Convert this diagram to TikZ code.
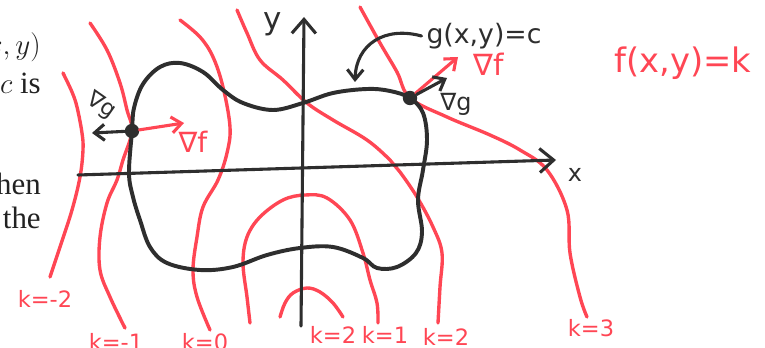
\documentclass[tikz,border=0pt]{standalone}
\usepackage{fontspec}
\setsansfont{DejaVu Sans}
\newfontfamily\bookfont{Liberation Serif}
\usetikzlibrary{arrows.meta}
\definecolor{cred}{HTML}{FF4654}
\definecolor{cink}{HTML}{2E2E2E}
\definecolor{cbook}{HTML}{222222}
\tikzset{
  every picture/.style={font=\sffamily, line cap=round, line join=round},
  level/.style={draw=cred, line width=2.4pt},
  gcurve/.style={draw=cink, line width=2.8pt},
  axis/.style={draw=cink, line width=2.2pt, -{Straight Barb[length=3.5mm, width=6mm]}},
  grad/.style={line width=2.2pt, -{Straight Barb[length=2.5mm, width=4mm]}},
  dot/.style={circle, fill=cink, inner sep=0pt, minimum size=0.36cm},
  klabel/.style={text=cred, font=\sffamily\fontsize{16}{18}\selectfont},
  book/.style={text=cbook, anchor=east, inner sep=0pt, font=\bookfont\fontsize{22}{24}\selectfont},
}

\begin{document}
\begin{tikzpicture}[x=0.025cm, y=-0.025cm]
  \useasboundingbox[fill=white] (0,0) rectangle (765,348);
  \node[book] (bk1) at (41,47) {$(x,y)$};
  \node[book] (bk2) at (41,83) {$c$ is};
  \node[book] (bk3) at (41,184) {then};
  \node[book] (bk4) at (41,218) {the};
  \draw[level] plot[smooth, tension=0.6] coordinates {(63,73) (72,92) (77,107) (82,133) (83,150) (80,177) (72,210) (60,247) (50,277)};
  \draw[level] plot[smooth, tension=0.6] coordinates {(90,23) (107,50) (120,83) (127,110) (132,131) (123,160) (117,180) (107,203) (100,237) (100,270) (110,297) (125,328)};
  \draw[level] plot[smooth, tension=0.6] coordinates {(180,20) (200,37) (213,57) (223,87) (230,127) (227,153) (218,180) (203,207) (197,237) (193,270) (197,297) (210,330)};
  \draw[level] plot[smooth, tension=0.6] coordinates {(250,323) (247,297) (243,263) (247,237) (260,217) (283,200) (305,195) (327,198) (350,220) (363,253) (370,280) (377,303) (378,323)};
  \draw[level] plot[smooth, tension=0.6] coordinates {(280,317) (285,303) (293,293) (307,288) (320,292) (333,303) (343,317)};
  \draw[level] plot[smooth, tension=0.6] coordinates {(237,10) (247,33) (260,60) (283,80) (307,103) (333,120) (367,140) (390,160) (400,172) (417,197) (433,227) (442,253) (440,287) (438,323)};
  \draw[level] plot[smooth, tension=0.6] coordinates {(360,7) (380,43) (397,72) (410,98) (447,117) (490,135) (520,150) (547,170) (567,210) (570,253) (580,297) (587,317)};
  \coordinate (xstart) at (78,175);
  \coordinate (xend) at (556,160);
  \coordinate (ystart) at (301,326);
  \coordinate (yend) at (304,17);
  \draw[axis] (xstart) -- (xend);
  \draw[axis] (ystart) -- (yend);
  \draw[gcurve] plot[smooth cycle, tension=0.6] coordinates {(132,131) (134,108) (143,84) (160,67) (180,63) (203,72) (223,90) (243,103) (273,110) (303,103) (333,93) (367,89) (390,91) (410,98) (423,113) (427,140) (423,170) (418,200) (422,232) (416,253) (397,267) (377,268) (363,258) (333,247) (300,248) (267,255) (233,267) (200,270) (167,263) (150,247) (140,220) (133,197) (129,173)};
  \node[dot] (lpt) at (132,131) {};
  \node[dot] (rpt) at (410,98) {};
  \coordinate (lgg) at (92,133);
  \coordinate (lgf) at (184,123);
  \coordinate (rgf) at (458,57);
  \coordinate (rgg) at (447,78);
  \draw[grad, cink] (lpt) -- (lgg);
  \draw[grad, cred] (lpt) -- (lgf);
  \draw[grad, cred] (rpt) -- (rgf);
  \draw[grad, cink] (rpt) -- (rgg);
  \node[text=cink, rotate=-35, inner sep=0pt, font=\sffamily\fontsize{16}{18}\selectfont] (lgglab) at (101,106) {∇g};
  \node[text=cred, font=\sffamily\fontsize{20}{22}\selectfont] (lgflab) at (193,142) {∇f};
  \node[text=cink, font=\sffamily\fontsize{17}{19}\selectfont] (rgglab) at (456,104) {∇g};
  \node[text=cred, font=\sffamily\fontsize{21}{23}\selectfont] (rgflab) at (489,64) {∇f};
  \node[text=cink, font=\sffamily\fontsize{19}{21}\selectfont] (glab) at (484,36) {g(x,y)=c};
  \draw[grad, cink] (glab.west) .. controls (385,26) and (356,44) .. (355,82);
  \node[text=cred, font=\sffamily\fontsize{24}{26}\selectfont] (flab) at (683,63) {f(x,y)=k};
  \node[text=cink, font=\sffamily\fontsize{22}{24}\selectfont] (ylab) at (273,24) {y};
  \node[text=cink, font=\sffamily\fontsize{17}{19}\selectfont] (xlab) at (575,175) {x};
  \node[klabel] (km2) at (45,299) {k=-2};
  \node[klabel] (km1) at (116,342) {k=-1};
  \node[klabel] (k0) at (205,342) {k=0};
  \node[klabel] (k2a) at (333,335) {k=2};
  \node[klabel] (k1) at (385,335) {k=1};
  \node[klabel] (k2b) at (446,337) {k=2};
  \node[klabel] (k3) at (591,328) {k=3};
\end{tikzpicture}
\end{document}
